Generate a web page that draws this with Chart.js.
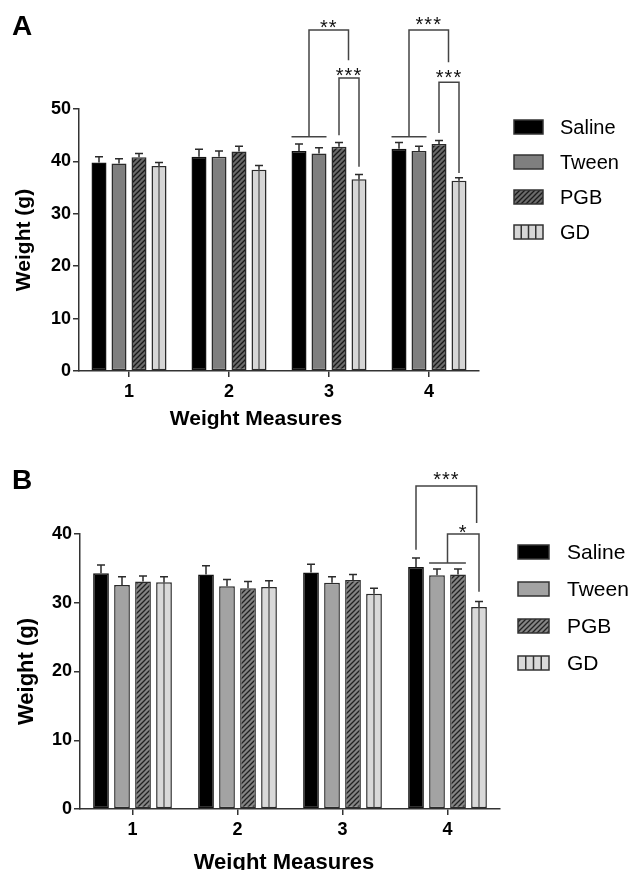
<!DOCTYPE html>
<html lang="en">
<head>
<meta charset="UTF-8" />
<title>Weight Measures</title>
<script src="https://cdn.jsdelivr.net/npm/chart.js"></script>
<style>
  body { margin: 0; background: #fff; }
  .panel { position: absolute; left: 0; width: 629px; height: 435px; }
</style>
</head>
<body>
<div class="panel" style="top:0"><canvas id="chartA" width="629" height="435"></canvas></div>
<div class="panel" style="top:435px"><canvas id="chartB" width="629" height="435"></canvas></div>
<script>
const measures = ["1", "2", "3", "4"];
const groups = ["Saline", "Tween", "PGB", "GD"];

// panel A: means and SEM
const salineA = [39.8, 40.9, 42.0, 42.4];
const tweenA = [39.6, 40.9, 41.5, 42.0];
const pgbA = [40.8, 41.9, 42.8, 43.3];
const gdA = [39.1, 38.4, 36.6, 36.3];
const salineErrA = [1.1, 1.4, 1.3, 1.2];
const tweenErrA = [0.9, 1.1, 1.1, 0.9];
const pgbErrA = [0.7, 1.0, 0.8, 0.7];
const gdErrA = [0.7, 0.8, 0.9, 0.6];

// panel B: means and SEM
const salineB = [34.3, 34.1, 34.4, 35.2];
const tweenB = [32.6, 32.4, 32.9, 34.0];
const pgbB = [33.1, 32.1, 33.3, 34.1];
const gdB = [33.0, 32.3, 31.3, 29.4];
const salineErrB = [1.2, 1.3, 1.2, 1.3];
const tweenErrB = [1.2, 1.0, 0.9, 0.9];
const pgbErrB = [0.8, 1.0, 0.8, 0.8];
const gdErrB = [0.8, 0.9, 0.8, 0.8];

const yTicksA = [0, 10, 20, 30, 40, 50];
const yTicksB = [0, 10, 20, 30, 40];

// significance brackets (bar indexes inside a measure, heights in grams)
const sigA = [
  { cat: 2, from: [0, 1], to: 3, label: "**", low: 44.7, top: 65.1, end: 59.3, shift: -0.7, labelY: 66.6 },
  { cat: 2, from: [2], to: 3, label: "***", low: 45.0, top: 55.9, end: 39.0, shift: 0, labelY: 57.4 },
  { cat: 3, from: [0, 1], to: 3, label: "***", low: 44.7, top: 65.1, end: 58.9, shift: -0.7, labelY: 67.0 },
  { cat: 3, from: [2], to: 3, label: "***", low: 45.4, top: 55.1, end: 37.8, shift: 0, labelY: 56.9 }
];
const sigB = [
  { cat: 3, from: [0], to: 3, label: "***", low: 37.7, top: 47.0, end: 41.6, shift: -0.15, labelY: 48.7 },
  { cat: 3, from: [1, 2], to: 3, label: "*", low: 35.8, top: 40.0, end: 31.6, shift: 0, labelY: 40.9 }
];

const FONT = "'Liberation Sans', Arial, sans-serif";
Chart.defaults.font.family = FONT;

function hatch(bg, fg) {
  const c = document.createElement("canvas");
  c.width = 5; c.height = 5;
  const g = c.getContext("2d");
  g.fillStyle = bg;
  g.fillRect(0, 0, 5, 5);
  g.strokeStyle = fg;
  g.lineWidth = 1.3;
  g.beginPath();
  g.moveTo(0, 5); g.lineTo(5, 0);
  g.moveTo(-1, 1); g.lineTo(1, -1);
  g.moveTo(4, 6); g.lineTo(6, 4);
  g.stroke();
  return g.createPattern(c, "repeat");
}

const decorations = {
  id: "decorations",
  afterDatasetsDraw(chart, args, o) {
    const ctx = chart.ctx;
    const y = chart.scales.y;
    ctx.save();
    chart.data.datasets.forEach((ds, i) => {
      chart.getDatasetMeta(i).data.forEach((bar, j) => {
        if (ds.stripe) {
          ctx.strokeStyle = "#4a4a4a";
          ctx.lineWidth = 1.2;
          ctx.beginPath();
          ctx.moveTo(bar.x, bar.y);
          ctx.lineTo(bar.x, bar.base - 1);
          ctx.stroke();
        }
        const top = y.getPixelForValue(ds.data[j] + ds.errors[j]);
        ctx.strokeStyle = "#2b2b2b";
        ctx.lineWidth = 1.5;
        ctx.beginPath();
        ctx.moveTo(bar.x, bar.y);
        ctx.lineTo(bar.x, top);
        ctx.moveTo(bar.x - 4, top);
        ctx.lineTo(bar.x + 4, top);
        ctx.stroke();
      });
    });

    // brackets
    ctx.strokeStyle = "#444";
    ctx.lineWidth = 1.5;
    ctx.fillStyle = "#111";
    ctx.font = "20px " + FONT;
    ctx.textAlign = "center";
    ctx.textBaseline = "alphabetic";
    ctx.letterSpacing = "1px";
    o.brackets.forEach(b => {
      const bars = chart.data.datasets.map((d, i) => chart.getDatasetMeta(i).data[b.cat]);
      const first = bars[b.from[0]];
      const last = bars[b.from[b.from.length - 1]];
      const low = y.getPixelForValue(b.low);
      let lx = first.x;
      ctx.beginPath();
      if (b.from.length > 1) {
        const x0 = first.x - first.width / 2;
        const x1 = last.x + last.width / 2;
        ctx.moveTo(x0, low);
        ctx.lineTo(x1, low);
        lx = (x0 + x1) / 2;
      }
      const to = bars[b.to];
      const rx = to.x + b.shift * to.width;
      const top = y.getPixelForValue(b.top);
      ctx.moveTo(lx, low);
      ctx.lineTo(lx, top);
      ctx.lineTo(rx, top);
      ctx.lineTo(rx, y.getPixelForValue(b.end));
      ctx.stroke();
      ctx.fillText(b.label, (lx + rx) / 2, y.getPixelForValue(b.labelY) + 11.5);
    });
    ctx.restore();
  },
  afterDraw(chart, args, o) {
    const ctx = chart.ctx;
    ctx.save();
    // panel letter
    ctx.fillStyle = "#000";
    ctx.font = "bold 28px " + FONT;
    ctx.textAlign = "left";
    ctx.fillText(o.panel, 12, o.panelY);
    // x axis title
    ctx.font = "bold " + o.xTitleSize + "px " + FONT;
    ctx.textAlign = "center";
    ctx.fillText("Weight Measures", o.xTitleX, o.xTitleY);
    // legend
    const lg = o.legend;
    chart.data.datasets.forEach((ds, i) => {
      const top = lg.y + i * lg.step;
      ctx.fillStyle = ds.backgroundColor;
      ctx.fillRect(lg.x, top, lg.w, lg.h);
      ctx.strokeStyle = "#333";
      ctx.lineWidth = 1.5;
      if (ds.stripe) {
        ctx.beginPath();
        for (let k = 1; k < 4; k++) {
          ctx.moveTo(lg.x + k * lg.w / 4, top);
          ctx.lineTo(lg.x + k * lg.w / 4, top + lg.h);
        }
        ctx.stroke();
      }
      ctx.strokeRect(lg.x, top, lg.w, lg.h);
      ctx.fillStyle = "#000";
      ctx.font = lg.size + "px " + FONT;
      ctx.textAlign = "left";
      ctx.textBaseline = "middle";
      ctx.fillText(ds.label, lg.textX, top + lg.h / 2 + 1);
    });
    ctx.restore();
  }
};

function barSet(label, data, errors, color, extra) {
  return Object.assign({
    label: label,
    data: data,
    errors: errors,
    backgroundColor: color,
    borderColor: "#2b2b2b",
    borderWidth: 1.5,
    borderSkipped: false,
    categoryPercentage: 0.8,
    barPercentage: 0.75
  }, extra || {});
}

function makeChart(id, datasets, cfg) {
  return new Chart(document.getElementById(id), {
    type: "bar",
    data: { labels: measures, datasets: datasets },
    options: {
      responsive: false,
      animation: false,
      layout: { padding: { left: 0, top: cfg.top, right: cfg.right, bottom: 0 } },
      plugins: {
        legend: { display: false },
        tooltip: { enabled: false },
        decorations: cfg.deco
      },
      scales: {
        x: {
          grid: { drawOnChartArea: false, offset: false, tickLength: 6, color: "#333", lineWidth: 1.5 },
          border: { color: "#333", width: 1.5 },
          ticks: { color: "#000", font: { weight: "bold", size: 18 }, padding: 4 },
          afterFit: s => { s.height = cfg.xHeight; }
        },
        y: {
          min: 0,
          max: cfg.ticks[cfg.ticks.length - 1],
          afterBuildTicks: s => { s.ticks = cfg.ticks.map(v => ({ value: v })); },
          grid: { drawOnChartArea: false, tickLength: 6, color: "#333", lineWidth: 1.5 },
          border: { color: "#333", width: 1.5 },
          ticks: { color: "#000", font: { weight: "bold", size: 18 }, padding: 2 },
          title: {
            display: true,
            text: "Weight (g)",
            color: "#000",
            font: { weight: "bold", size: cfg.yTitleSize },
            padding: { top: cfg.yTitlePad, bottom: 0 }
          },
          afterFit: s => { s.width = cfg.yWidth; }
        }
      }
    },
    plugins: [decorations]
  });
}

makeChart("chartA", [
  barSet(groups[0], salineA, salineErrA, "#000000", { borderColor: "#111" }),
  barSet(groups[1], tweenA, tweenErrA, "#7f7f7f"),
  barSet(groups[2], pgbA, pgbErrA, hatch("#6a6a6a", "#1a1a1a")),
  barSet(groups[3], gdA, gdErrA, "#d6d6d6", { stripe: true })
], {
  top: 109, right: 150, xHeight: 64, yWidth: 79, ticks: yTicksA,
  yTitleSize: 21, yTitlePad: 12,
  deco: {
    brackets: sigA, panel: "A", panelY: 35,
    xTitleX: 256, xTitleY: 425, xTitleSize: 21,
    legend: { x: 514, y: 120, step: 35, w: 29, h: 14, textX: 560, size: 20 }
  }
});

makeChart("chartB", [
  barSet(groups[0], salineB, salineErrB, "#000000", { borderColor: "#111" }),
  barSet(groups[1], tweenB, tweenErrB, "#a3a3a3"),
  barSet(groups[2], pgbB, pgbErrB, hatch("#858585", "#222")),
  barSet(groups[3], gdB, gdErrB, "#d9d9d9", { stripe: true })
], {
  top: 99, right: 129, xHeight: 61, yWidth: 80, ticks: yTicksB,
  yTitleSize: 22, yTitlePad: 14,
  deco: {
    brackets: sigB, panel: "B", panelY: 54,
    xTitleX: 284, xTitleY: 434, xTitleSize: 22,
    legend: { x: 518, y: 110, step: 37, w: 31, h: 14, textX: 567, size: 21 }
  }
});
</script>
</body>
</html>
